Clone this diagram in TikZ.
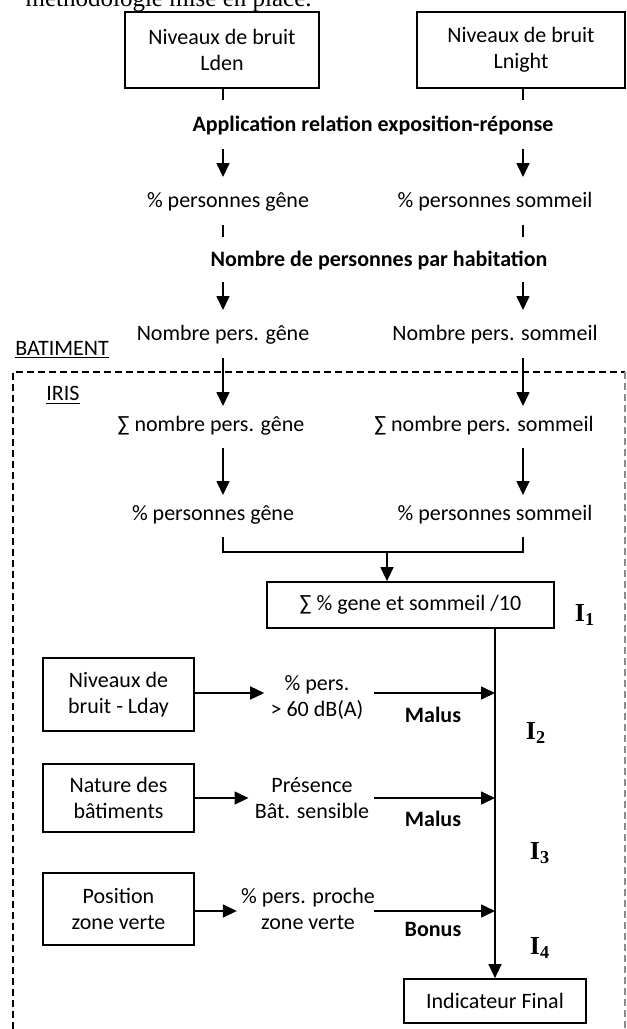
\documentclass[tikz,border=0pt]{standalone}
\usepackage{fontspec}
\setmainfont{Carlito}
\newfontfamily\seriffont{Liberation Serif}
\usetikzlibrary{arrows.meta}
\begin{document}
\begin{tikzpicture}[x=0.5pt,y=-0.5pt,
  every node/.style={font=\fontsize{11}{13}\selectfont, inner sep=2pt},
  box/.style={draw, line width=0.9pt, align=center, inner sep=0pt},
  lbl/.style={align=center},
  bld/.style={font=\fontsize{11}{13}\selectfont\bfseries},
  idx/.style={font=\seriffont\fontsize{13}{15}\selectfont\bfseries},
  ln/.style={line width=0.8pt},
  arr/.style={line width=0.8pt,-{Triangle[length=7pt,width=6.5pt]}},
  zone/.style={line width=0.6pt, dash pattern=on 3.5pt off 2pt}
]
\useasboundingbox (0,0) rectangle (627,1029);
\clip (0,0) rectangle (627,1029);

% cut-off text at the top
\node[font=\seriffont\fontsize{12.5}{14}\selectfont, anchor=base east, inner sep=0pt] (top) at (312,6) {méthodologie mise en place.};

% top boxes
\node[box, minimum width=97pt, minimum height=38pt] (lden) at (222,50) {Niveaux de bruit\\Lden};
\node[box, minimum width=104pt, minimum height=38pt] (lnight) at (521,50) {Niveaux de bruit\\Lnight};

\node[bld] (app) at (373,125) {Application relation exposition-réponse};
\node (pg1) at (228,202) {\% personnes gêne};
\node (ps1) at (495,202) {\% personnes sommeil};
\node[bld] (nb) at (379,260) {Nombre de personnes par habitation};
\node (npg) at (223,335) {Nombre pers. gêne};
\node (nps) at (495,335) {Nombre pers. sommeil};

\node (bat) at (62,350) {\underline{BATIMENT}};
\node (iris) at (63,395) {\underline{IRIS}};

\node (sg) at (211,426) {∑ nombre pers. gêne};
\node (ss) at (484,426) {∑ nombre pers. sommeil};
\node (pg2) at (213,515) {\% personnes gêne};
\node (ps2) at (495,515) {\% personnes sommeil};

\node[box, minimum width=143.5pt, minimum height=23pt] (sum) at (410.5,605) {∑ \% gene et sommeil /10};

\node[box, minimum width=75.5pt, minimum height=36.5pt] (lday) at (118.5,694.5) {Niveaux de\\bruit - Lday};
\node[box, minimum width=75.5pt, minimum height=34pt] (nat) at (118.5,798) {Nature des\\bâtiments};
\node[box, minimum width=75.5pt, minimum height=36pt] (pos) at (118.5,909) {Position\\zone verte};
\node[box, minimum width=91pt, minimum height=22pt] (final) at (495,1001) {Indicateur Final};

\node[lbl, inner sep=3pt] (t1) at (317,697.5) {\% pers.\\> 60 dB(A)};
\node[lbl, inner sep=3pt] (t2) at (312,798.5) {Présence\\Bât. sensible};
\node[lbl, inner sep=2pt] (t3) at (308,909) {\% pers. proche\\zone verte};

\node[bld] (m1) at (433,715) {Malus};
\node[bld] (m2) at (433,819) {Malus};
\node[bld] (b1) at (433,929) {Bonus};

\node[idx] (i1) at (585,615) {I\textsubscript{1}};
\node[idx] (i2) at (536,733) {I\textsubscript{2}};
\node[idx] (i3) at (540,853) {I\textsubscript{3}};
\node[idx] (i4) at (540,948) {I\textsubscript{4}};

% dashed zone
\draw[zone] (13,1040) -- (13,372) -- (625,372);
\draw[zone, black!45] (625,372) -- (625,1040);

% column coordinates
\coordinate (la1) at (223,100); \coordinate (ra1) at (523,100);
\coordinate (la2) at (223,149); \coordinate (ra2) at (523,149);
\coordinate (la3) at (223,177); \coordinate (ra3) at (523,177);
\coordinate (la4) at (223,225); \coordinate (ra4) at (523,225);
\coordinate (la5) at (223,237); \coordinate (ra5) at (523,237);
\coordinate (la6) at (223,282); \coordinate (ra6) at (523,282);
\coordinate (la7) at (223,310); \coordinate (ra7) at (523,310);
\coordinate (la8) at (223,358); \coordinate (ra8) at (523,358);
\coordinate (la9) at (223,406); \coordinate (ra9) at (523,406);
\coordinate (la10) at (223,448); \coordinate (ra10) at (523,448);
\coordinate (la11) at (223,495); \coordinate (ra11) at (523,495);
\coordinate (la12) at (223,537); \coordinate (ra12) at (523,537);
\coordinate (la13) at (223,552); \coordinate (ra13) at (523,552);
\coordinate (jm) at (387,552);

\draw[ln] (lden.south -| la1) -- (la1);
\draw[ln] (lnight.south -| ra1) -- (ra1);
\draw[arr] (la2) -- (la3);
\draw[arr] (ra2) -- (ra3);
\draw[ln] (la4) -- (la5);
\draw[ln] (ra4) -- (ra5);
\draw[arr] (la6) -- (la7);
\draw[arr] (ra6) -- (ra7);
\draw[arr] (la8) -- (la9);
\draw[arr] (ra8) -- (ra9);
\draw[arr] (la10) -- (la11);
\draw[arr] (ra10) -- (ra11);
\draw[ln] (la12) -- (la13) -- (ra13) -- (ra12);
\draw[arr] (jm) -- (sum.north -| jm);

% main vertical
\draw[arr] (sum.south -| final.north) -- (final.north);

% side inputs
\coordinate (s1) at (374,693); \coordinate (e1) at (495,693);
\coordinate (s2) at (374,798); \coordinate (e2) at (495,798);
\coordinate (s3) at (374,911); \coordinate (e3) at (495,911);
\draw[arr] (lday.east |- s1) -- (t1.west |- s1);
\draw[arr] (nat.east |- s2) -- (t2.west |- s2);
\draw[arr] (pos.east |- s3) -- (t3.west |- s3);
\draw[arr] (s1) -- (e1);
\draw[arr] (s2) -- (e2);
\draw[arr] (s3) -- (e3);
\end{tikzpicture}
\end{document}
